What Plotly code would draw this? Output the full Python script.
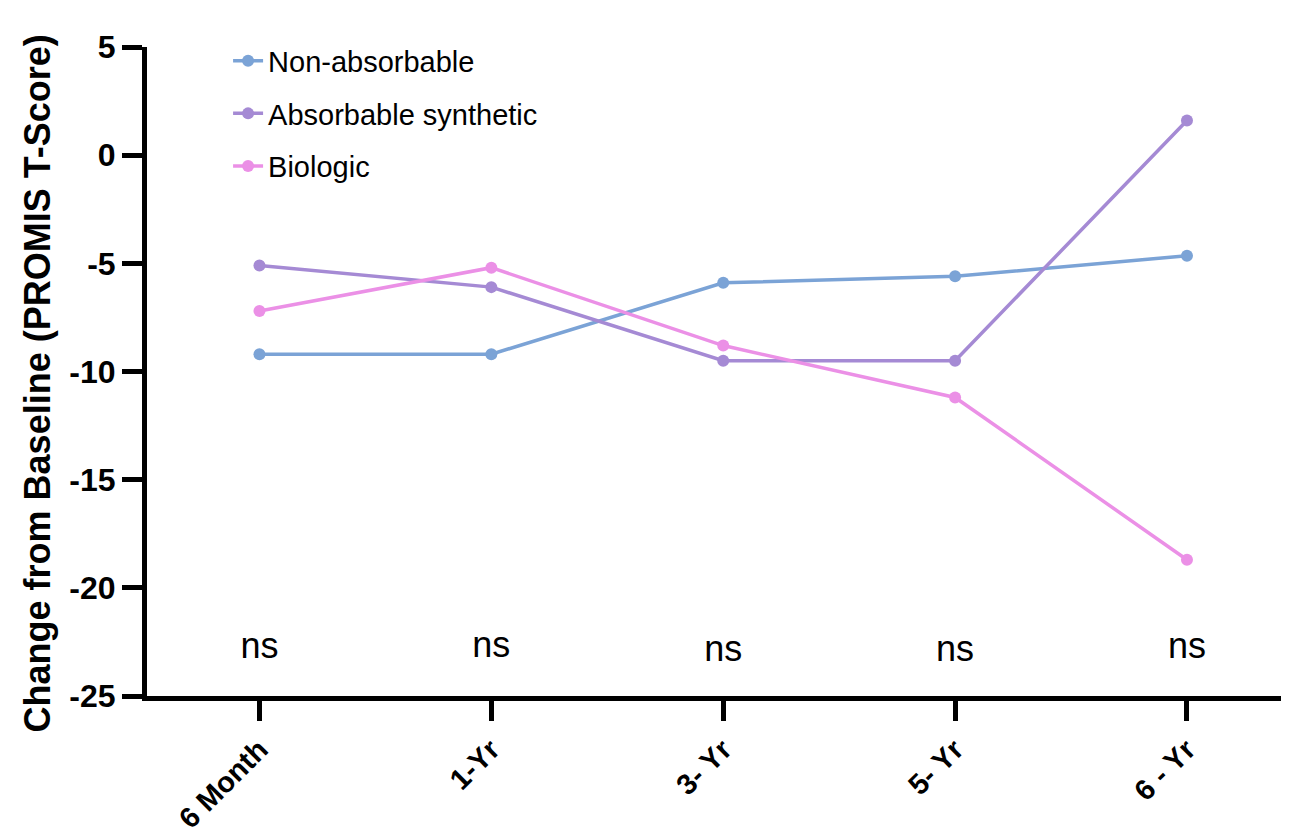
import plotly.graph_objects as go

categories = ["6 Month", "1-Yr", "3- Yr", "5- Yr", "6 - Yr"]
non_absorbable = [-9.2, -9.2, -5.9, -5.6, -4.65]
absorbable_synthetic = [-5.1, -6.1, -9.5, -9.5, 1.6]
biologic = [-7.2, -5.2, -8.8, -11.2, -18.7]
sig_labels = ["ns", "ns", "ns", "ns", "ns"]
sig_y = [-22.85, -22.8, -22.95, -22.95, -22.85]
y_title = "Change from Baseline (PROMIS T-Score)"

series = [
    ("Non-absorbable", non_absorbable, "#7BA3D6"),
    ("Absorbable synthetic", absorbable_synthetic, "#A58AD4"),
    ("Biologic", biologic, "#EB90E6"),
]

xpos = list(range(len(categories)))
fig = go.Figure()
for name, vals, col in series:
    fig.add_trace(go.Scatter(x=xpos, y=vals, name=name, mode="lines+markers",
                             legendgroup=name,
                             line=dict(color=col, width=3.5),
                             marker=dict(color=col, size=12)))

fig.add_trace(go.Scatter(x=xpos, y=sig_y, text=sig_labels, mode="text",
                         textfont=dict(size=36, color="black", family="Arial"),
                         showlegend=False, hoverinfo="skip"))

fig.update_layout(
    width=1281, height=827,
    paper_bgcolor="white", plot_bgcolor="white",
    margin=dict(l=139, r=0, t=39, b=139),
    font=dict(family="Arial", color="black"),
    legend=dict(x=0.071, y=1.018, xanchor="left", yanchor="top",
                font=dict(size=29, family="Arial"), bgcolor="rgba(0,0,0,0)",
                traceorder="grouped", tracegroupgap=12),
    showlegend=True,
)
fig.add_annotation(text="<b>%s</b>" % y_title, textangle=-90,
                   xref="paper", yref="paper", x=-0.0958, y=0.481,
                   xanchor="center", yanchor="middle", showarrow=False,
                   font=dict(size=36, family="Arial", color="black"))
fig.update_xaxes(
    range=[-0.485, 4.44], tickmode="array", tickvals=xpos,
    ticktext=["<b>%s</b>" % c for c in categories],
    tickangle=-45, ticks="outside", ticklen=20, tickwidth=5, tickcolor="black",
    showline=True, linecolor="black", linewidth=5, showgrid=False, zeroline=False,
    tickfont=dict(size=29, family="Arial", color="black"), automargin=False,
)
fig.update_yaxes(
    range=[-25, 5], tickvals=[-25, -20, -15, -10, -5, 0, 5],
    ticktext=["<b>%d</b>" % v for v in [-25, -20, -15, -10, -5, 0, 5]],
    ticks="outside", ticklen=20, tickwidth=5, tickcolor="black",
    showline=True, linecolor="black", linewidth=5, showgrid=False, zeroline=False,
    tickfont=dict(size=32, family="Arial", color="black"), automargin=False,
)
fig.write_html("out.html")
